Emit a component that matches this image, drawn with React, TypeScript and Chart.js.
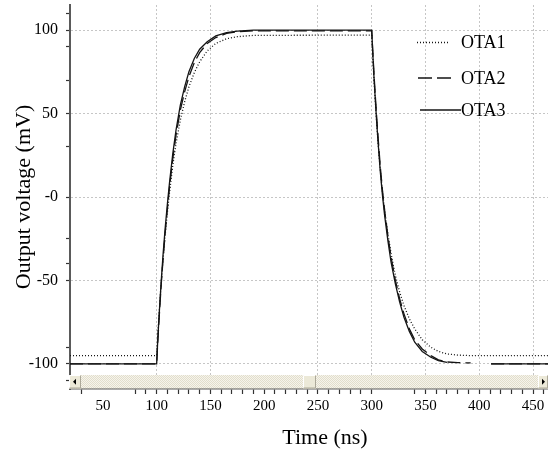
import React, { useEffect, useRef } from 'react';
import { Chart, registerables } from 'chart.js';

Chart.register(...registerables);

// ---- data ----
const TIME_NS = [
  19.4, 100, 101, 102, 103, 104.5, 106, 108, 110, 112, 115, 118, 122, 126, 130, 135, 140, 147, 155, 165, 175, 190,
  300, 301, 302, 303, 304.5, 306, 308, 310, 312, 315, 318, 322, 326, 330, 335, 340, 347, 355, 362, 370,
  380, 392, 395, 408, 411, 493.7,
];

const OTA1 = [
  -95, -95, -83, -73, -63, -49, -37, -22, -9, 3, 19, 32, 46, 57, 66, 74.5, 81, 87.5, 92, 94.8, 96, 96.8,
  97, 84, 72, 61, 46, 32, 16, 3, -8, -22, -34, -47, -57, -65, -73, -79, -85.5, -90, -92.5, -94,
  -94.7, -95, -95, -95, -95, -95,
];

const OTA2 = [
  -100, -100, -87, -76, -65, -50, -37, -21, -7, 6, 23, 37, 52, 63, 72, 80.5, 86.5, 92, 95.5, 98, 99, 99.5,
  99.5, 87, 75, 64, 49, 35, 18, 4, -8, -23, -36, -50, -61, -70, -79, -85.5, -91, -95, -97.5, -98.8,
  -99.2, -99.4, null, null, -100, -100,
];

const OTA3 = [
  -100, -100, -86, -74, -63, -48, -34, -18, -4, 9, 26, 40, 55, 66, 75, 83, 88.5, 93, 96.5, 98.5, 99.4, 100,
  100, 86, 73, 62, 46, 32, 15, 1, -11, -26, -39, -52, -63, -72, -80.5, -87, -92.5, -96, -98, -99,
  null, null, null, null, -100, -100,
];

const SERIES_NAMES = ['OTA1', 'OTA2', 'OTA3'];

const X_MIN = 19.4;
const X_MAX = 493.7;
const X_LABEL_VALUES = [50, 100, 150, 200, 250, 300, 350, 400, 450];
const X_GRID_VALUES = [100, 150, 250, 300, 350, 400, 450];
const X_TICK_HIDDEN = [20, 40, 50, 60, 70, 310, 320, 330];

const Y_MIN = -115;
const Y_MAX = 115;
const Y_LABEL_VALUES = [-100, -50, 0, 50, 100];
const Y_LABEL_TEXT = ['-100', '-50', '-0', '50', '100'];
const Y_MINOR_TICKS = [110, 90, 70, 30, -25, -40, -90, -110];

const X_TITLE = 'Time (ns)';
const Y_TITLE = 'Output voltage (mV)';

const VIEW_W = 548;
const SERIF = "'Liberation Serif', 'Times New Roman', serif";

const near = (a: number, b: number) => Math.abs(a - b) < 1e-6;
const inList = (list: number[], v: number) => list.some((x) => near(x, v));

function makeChecker(): CanvasPattern | string {
  const c = document.createElement('canvas');
  c.width = 2;
  c.height = 2;
  const g = c.getContext('2d');
  if (!g) return '#ebe8d8';
  g.fillStyle = '#f6f4ec';
  g.fillRect(0, 0, 2, 2);
  g.fillStyle = '#e2decc';
  g.fillRect(0, 0, 1, 1);
  g.fillRect(1, 1, 1, 1);
  const p = g.createPattern(c, 'repeat');
  return p || '#ebe8d8';
}

function drawButton(ctx: CanvasRenderingContext2D, x: number, y: number, w: number, h: number) {
  ctx.fillStyle = '#ece9d8';
  ctx.fillRect(x, y, w, h);
  ctx.strokeStyle = '#ffffff';
  ctx.lineWidth = 1;
  ctx.beginPath();
  ctx.moveTo(x + 0.5, y + h - 0.5);
  ctx.lineTo(x + 0.5, y + 0.5);
  ctx.lineTo(x + w - 0.5, y + 0.5);
  ctx.stroke();
  ctx.strokeStyle = '#aca899';
  ctx.beginPath();
  ctx.moveTo(x + w - 0.5, y + 0.5);
  ctx.lineTo(x + w - 0.5, y + h - 0.5);
  ctx.lineTo(x + 0.5, y + h - 0.5);
  ctx.stroke();
}

const decorPlugin = {
  id: 'decor',
  afterDraw(chart: any) {
    const ctx: CanvasRenderingContext2D = chart.ctx;
    const area = chart.chartArea;
    // scrollbar strip of the waveform viewer
    const top = area.bottom - 14;
    const h = 13.5;
    ctx.save();
    ctx.fillStyle = makeChecker();
    ctx.fillRect(area.left - 1, top, VIEW_W - area.left + 1, h);
    drawButton(ctx, area.left - 1, top, 12, h);
    drawButton(ctx, 303, top, 13, h);
    drawButton(ctx, VIEW_W - 10, top, 10, h);
    ctx.fillStyle = '#000';
    ctx.beginPath();
    ctx.moveTo(area.left + 3, top + h / 2);
    ctx.lineTo(area.left + 6, top + h / 2 - 3);
    ctx.lineTo(area.left + 6, top + h / 2 + 3);
    ctx.closePath();
    ctx.fill();
    ctx.beginPath();
    ctx.moveTo(VIEW_W - 3, top + h / 2);
    ctx.lineTo(VIEW_W - 6, top + h / 2 - 3);
    ctx.lineTo(VIEW_W - 6, top + h / 2 + 3);
    ctx.closePath();
    ctx.fill();
    ctx.restore();

    // legend inside the plot
    const rows = [42.5, 78, 110];
    const starts = [417, 418, 420];
    const ends = [449, 452, 461];
    ctx.save();
    ctx.font = `18px ${SERIF}`;
    ctx.textBaseline = 'middle';
    ctx.textAlign = 'left';
    chart.data.datasets.forEach((ds: any, i: number) => {
      ctx.strokeStyle = ds.borderColor;
      ctx.lineWidth = ds.borderWidth;
      ctx.setLineDash(ds.legendDash || []);
      ctx.beginPath();
      ctx.moveTo(starts[i], rows[i]);
      ctx.lineTo(ends[i], rows[i]);
      ctx.stroke();
      ctx.setLineDash([]);
      ctx.fillStyle = '#000';
      ctx.fillText(ds.label, 461, rows[i] + 1);
    });
    ctx.restore();
  },
};

export default function App() {
  const canvasRef = useRef<HTMLCanvasElement | null>(null);

  useEffect(() => {
    const canvas = canvasRef.current;
    if (!canvas) return;
    const series = [OTA1, OTA2, OTA3];
    const dashes = [[1, 2], [13, 5], []];
    const legendDashes = [[1, 2], [14, 5], []];

    const chart = new Chart(canvas, {
      type: 'line',
      data: {
        datasets: series.map((vals, i) => ({
          label: SERIES_NAMES[i],
          data: TIME_NS.map((t, j) => ({ x: t, y: vals[j] })),
          borderColor: '#141414',
          borderWidth: 1.3,
          borderDash: dashes[i],
          legendDash: legendDashes[i],
          pointRadius: 0,
          tension: 0,
          spanGaps: false,
          fill: false,
        })) as any,
      },
      options: {
        animation: false,
        responsive: false,
        devicePixelRatio: 1,
        layout: { padding: { top: 5, left: 0, right: 0, bottom: 0 } },
        plugins: { legend: { display: false }, tooltip: { enabled: false } },
        scales: {
          x: {
            type: 'linear',
            min: X_MIN,
            max: X_MAX,
            afterFit: (s: any) => {
              s.height = 66;
              s.paddingLeft = 0;
              s.paddingRight = 0;
            },
            border: { display: true, color: '#5a5a5a', width: 1.5, dash: [2, 2] },
            grid: {
              color: (c: any) => (c.tick && inList(X_GRID_VALUES, c.tick.value) ? '#c6c6c6' : 'rgba(0,0,0,0)'),
              lineWidth: 1,
              drawTicks: true,
              tickLength: 5,
              tickWidth: 1.2,
              tickColor: (c: any) => {
                const v = c.tick ? c.tick.value : NaN;
                const onStep = Math.abs(v / 10 - Math.round(v / 10)) < 1e-6;
                return onStep && !inList(X_TICK_HIDDEN, v) ? '#333' : 'rgba(0,0,0,0)';
              },
            },
            ticks: {
              stepSize: 10,
              autoSkip: false,
              maxRotation: 0,
              minRotation: 0,
              padding: 3,
              color: '#000',
              font: { family: SERIF, size: 15 },
              callback: (v: any) => (inList(X_LABEL_VALUES, Number(v)) ? String(Math.round(Number(v))) : ''),
            },
            title: {
              display: true,
              text: X_TITLE,
              color: '#000',
              font: { family: SERIF, size: 22 },
              padding: { top: 0, bottom: 4 },
            },
          },
          y: {
            type: 'linear',
            min: Y_MIN,
            max: Y_MAX,
            afterFit: (s: any) => {
              s.width = 70;
              s.paddingTop = 0;
              s.paddingBottom = 0;
            },
            border: { display: true, color: '#5a5a5a', width: 2, dash: [2, 2] },
            grid: {
              color: (c: any) => (c.tick && inList(Y_LABEL_VALUES, c.tick.value) ? '#c6c6c6' : 'rgba(0,0,0,0)'),
              lineWidth: 1,
              drawTicks: true,
              tickLength: 4,
              tickWidth: 1.2,
              tickColor: (c: any) => {
                const v = c.tick ? c.tick.value : NaN;
                return inList(Y_LABEL_VALUES, v) || inList(Y_MINOR_TICKS, v) ? '#333' : 'rgba(0,0,0,0)';
              },
            },
            ticks: {
              stepSize: 5,
              autoSkip: false,
              padding: 8,
              color: '#000',
              font: { family: SERIF, size: 16 },
              callback: (v: any) => {
                const idx = Y_LABEL_VALUES.findIndex((x) => near(x, Number(v)));
                return idx >= 0 ? Y_LABEL_TEXT[idx] : '';
              },
            },
            title: {
              display: true,
              text: Y_TITLE,
              color: '#000',
              font: { family: SERIF, size: 22 },
              padding: { top: 11, bottom: 0 },
            },
          },
        },
      },
      plugins: [decorPlugin],
    });
    return () => chart.destroy();
  }, []);

  return (
    <div
      style={{
        position: 'fixed',
        left: 0,
        top: 0,
        width: VIEW_W,
        height: 455,
        overflow: 'hidden',
        background: '#fff',
      }}
    >
      <canvas ref={canvasRef} width={580} height={455} style={{ display: 'block' }} />
    </div>
  );
}
